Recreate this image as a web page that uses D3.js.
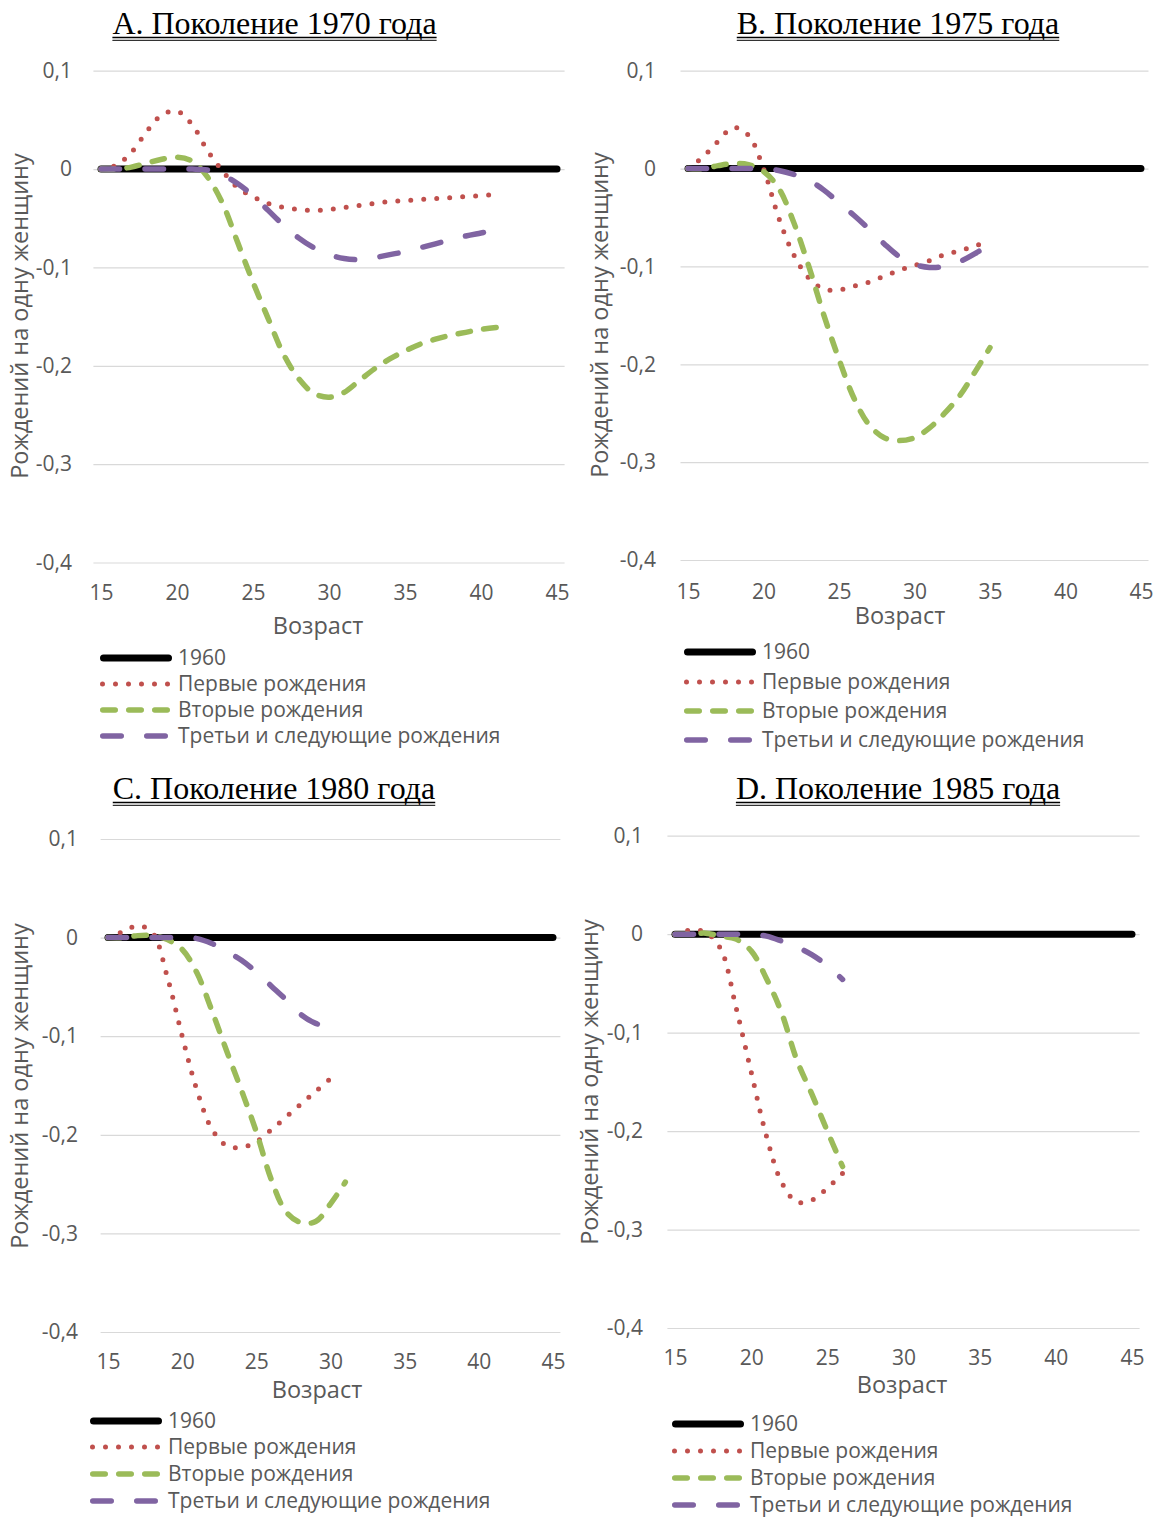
<!DOCTYPE html>
<html>
<head>
<meta charset="utf-8">
<script src="https://cdn.jsdelivr.net/npm/d3@7/dist/d3.min.js"></script>
<style>
body { margin: 0; background: #fff; }
svg { display: block; }
</style>
</head>
<body>
<script>
// categories (age) and ticks
var ages   = [15,16,17,18,19,20,21,22,23,24,25,26,27,28,29,30,31,32,33,34,35,36,37,38,39,40,41,42,43,44,45];
var xTicks = [15,20,25,30,35,40,45];
var yTicks = [0.1,0,-0.1,-0.2,-0.3,-0.4];

var seriesNames = ["1960","Первые рождения","Вторые рождения","Третьи и следующие рождения"];
var panelTitles = ["А. Поколение 1970 года","В. Поколение 1975 года","С. Поколение 1980 года","D. Поколение 1985 года"];

// reference line (1960), ages 15-45
var base1960 = [0,0,0,0,0,0,0,0,0,0,0,0,0,0,0,0,0,0,0,0,0,0,0,0,0,0,0,0,0,0,0];

// cohort 1970, ages 15-41
var first1970  = [0,0.004,0.017,0.038,0.055,0.059,0.045,0.019,-0.002,-0.019,-0.028,-0.035,-0.039,-0.041,-0.042,-0.041,-0.039,-0.037,-0.035,-0.033,-0.032,-0.031,-0.030,-0.029,-0.028,-0.027,-0.026];
var second1970 = [0,0,0.002,0.006,0.010,0.012,0.008,-0.008,-0.035,-0.075,-0.115,-0.152,-0.188,-0.213,-0.228,-0.232,-0.227,-0.215,-0.203,-0.193,-0.185,-0.178,-0.173,-0.169,-0.166,-0.163,-0.161];
var third1970  = [0,0,0,0,0,0,0,-0.001,-0.006,-0.015,-0.027,-0.042,-0.057,-0.070,-0.080,-0.087,-0.091,-0.092,-0.090,-0.087,-0.084,-0.080,-0.076,-0.072,-0.068,-0.065,-0.062];

// cohort 1975, ages 15-35
var first1975  = [0,0.012,0.028,0.042,0.034,0,-0.050,-0.088,-0.112,-0.123,-0.124,-0.120,-0.116,-0.110,-0.104,-0.099,-0.094,-0.088,-0.084,-0.079,-0.074];
var second1975 = [0,0,0.003,0.005,0.004,-0.003,-0.020,-0.055,-0.100,-0.150,-0.195,-0.235,-0.262,-0.275,-0.278,-0.275,-0.265,-0.250,-0.232,-0.208,-0.183];
var third1975  = [0,0,0,0,0,0,-0.002,-0.006,-0.012,-0.022,-0.035,-0.048,-0.062,-0.077,-0.090,-0.098,-0.101,-0.100,-0.095,-0.087,-0.077];

// cohort 1980, ages 15-30 / 15-31
var first1980  = [0,0.006,0.012,0.005,-0.040,-0.100,-0.155,-0.194,-0.211,-0.213,-0.207,-0.195,-0.182,-0.169,-0.156,-0.143];
var second1980 = [0,0,0.002,0.002,-0.002,-0.012,-0.036,-0.074,-0.115,-0.155,-0.197,-0.245,-0.278,-0.289,-0.288,-0.270,-0.248];
var third1980  = [0,0,0,0,0,0,-0.001,-0.006,-0.014,-0.023,-0.035,-0.049,-0.063,-0.078,-0.087,-0.091];

// cohort 1985, ages 15-26
var first1985  = [0,0.004,0.002,-0.015,-0.074,-0.140,-0.205,-0.252,-0.272,-0.270,-0.258,-0.243];
var second1985 = [0,0,0.001,-0.002,-0.005,-0.017,-0.045,-0.080,-0.128,-0.163,-0.200,-0.236];
var third1985  = [0,0,0,0,0,0,-0.002,-0.007,-0.013,-0.021,-0.032,-0.046];

var styles = [
  {color:"#000000", width:7,   dash:null},
  {color:"#C0504D", width:5,   dash:"0 13"},
  {color:"#9BBB59", width:5.5, dash:"12.5 13.5"},
  {color:"#8064A2", width:5.5, dash:"18.5 25.5"}
];

var panels = [
  {title:panelTitles[0], data:[base1960,first1970,second1970,third1970], x0:93.4, x1:564.6, yTop:70.7, yBot:562.5,
   labelX:72, tickY:600, axisTitleX:318, axisTitleY:634, yTitleX:20, yTitleY:316, titleX:274.5, titleY:34,
   legX:100, legRows:[658,684,710,736]},
  {title:panelTitles[1], data:[base1960,first1975,second1975,third1975], x0:680.5, x1:1148.5, yTop:70.7, yBot:560,
   labelX:656, tickY:599, axisTitleX:900, axisTitleY:624, yTitleX:600, yTitleY:315, titleX:898, titleY:34,
   legX:684, legRows:[652,682,711,740]},
  {title:panelTitles[2], data:[base1960,first1980,second1980,third1980], x0:100.6, x1:560.4, yTop:839, yBot:1332,
   labelX:78, tickY:1369, axisTitleX:317, axisTitleY:1398, yTitleX:20, yTitleY:1086, titleX:274, titleY:799,
   legX:90, legRows:[1421,1447,1474,1501]},
  {title:panelTitles[3], data:[base1960,first1985,second1985,third1985], x0:667.4, x1:1139.6, yTop:835.7, yBot:1328,
   labelX:643, tickY:1365, axisTitleX:902, axisTitleY:1393, yTitleX:590, yTitleY:1082, titleX:898, titleY:799,
   legX:672, legRows:[1424,1451,1478,1505]}
];

var svg = d3.select("body").append("svg").attr("width", 1161).attr("height", 1517);

var fmt = function(d){ return d === 0 ? "0" : d3.format(".1f")(d).replace(".", ",").replace("−", "-"); };

function renderPanel(p) {
  var x = d3.scalePoint().domain(ages).range([p.x0, p.x1]).padding(0.5);
  var y = d3.scaleLinear().domain([-0.4, 0.1]).range([p.yBot, p.yTop]);
  var g = svg.append("g");

  // title with double underline
  var t = g.append("text").attr("x", p.titleX).attr("y", p.titleY).attr("text-anchor", "middle")
    .style("font-family", "'Liberation Serif', 'Times New Roman', serif").style("font-size", "32px")
    .attr("fill", "#000").text(p.title);
  var tw = t.node().getComputedTextLength();
  g.append("line").attr("x1", p.titleX - tw/2).attr("x2", p.titleX + tw/2)
    .attr("y1", p.titleY + 3.5).attr("y2", p.titleY + 3.5).attr("stroke", "#000").attr("stroke-width", 1.5);
  g.append("line").attr("x1", p.titleX - tw/2).attr("x2", p.titleX + tw/2)
    .attr("y1", p.titleY + 6.3).attr("y2", p.titleY + 6.3).attr("stroke", "#000").attr("stroke-width", 1);

  // gridlines
  var grid = g.append("g").attr("transform", "translate(" + p.x0 + ",0)")
    .call(d3.axisLeft(y).tickValues(yTicks).tickSize(-(p.x1 - p.x0)).tickFormat(""));
  grid.select(".domain").remove();
  grid.selectAll(".tick line").attr("stroke", "#D9D9D9").attr("stroke-width", 1.2);

  // y tick labels
  var yAxis = g.append("g").attr("transform", "translate(" + p.labelX + ",0)")
    .call(d3.axisLeft(y).tickValues(yTicks).tickSize(0).tickPadding(0).tickFormat(fmt));
  yAxis.select(".domain").remove();
  yAxis.selectAll("text").style("font-family", "'Open Sans', sans-serif").style("font-size", "21px").attr("fill", "#595959");

  // x tick labels
  var xAxis = g.append("g").attr("transform", "translate(0," + p.tickY + ")")
    .call(d3.axisBottom(x).tickValues(xTicks).tickSize(0).tickPadding(0));
  xAxis.select(".domain").remove();
  xAxis.selectAll("text").attr("y", 0).attr("dy", null)
    .style("font-family", "'Open Sans', sans-serif").style("font-size", "21px").attr("fill", "#595959");

  // axis titles
  g.append("text").attr("x", p.axisTitleX).attr("y", p.axisTitleY).attr("text-anchor", "middle")
    .style("font-family", "'Open Sans', sans-serif").style("font-size", "23.5px").attr("fill", "#595959").text("Возраст");
  g.append("text").attr("transform", "translate(" + p.yTitleX + "," + p.yTitleY + ") rotate(-90)")
    .attr("text-anchor", "middle").attr("dy", "0.35em")
    .style("font-family", "'Open Sans', sans-serif").style("font-size", "23.5px").attr("fill", "#595959")
    .text("Рождений на одну женщину");

  // series
  p.data.forEach(function(vals, i) {
    var s = styles[i];
    var line = d3.line().x(function(d, j){ return x(ages[j]); }).y(function(d){ return y(d); })
      .curve(i === 0 ? d3.curveLinear : d3.curveCatmullRom.alpha(0.5));
    g.append("path").attr("d", line(vals)).attr("fill", "none")
      .attr("stroke", s.color).attr("stroke-width", s.width)
      .attr("stroke-linecap", "round").attr("stroke-linejoin", "round")
      .attr("stroke-dasharray", s.dash);
  });

  // legend
  seriesNames.forEach(function(name, i) {
    var s = styles[i], ry = p.legRows[i];
    var off = i === 1 ? 2.5 : (i === 0 ? 3.5 : 2.75);
    g.append("line").attr("x1", p.legX + off).attr("x2", p.legX + 72 - off).attr("y1", ry).attr("y2", ry)
      .attr("stroke", s.color).attr("stroke-width", s.width).attr("stroke-linecap", "round")
      .attr("stroke-dasharray", s.dash);
    g.append("text").attr("x", p.legX + 78).attr("y", ry).attr("dy", "0.35em")
      .style("font-family", "'Open Sans', sans-serif").style("font-size", "21px").attr("fill", "#595959").text(name);
  });
}

panels.forEach(renderPanel);
</script>
</body>
</html>
